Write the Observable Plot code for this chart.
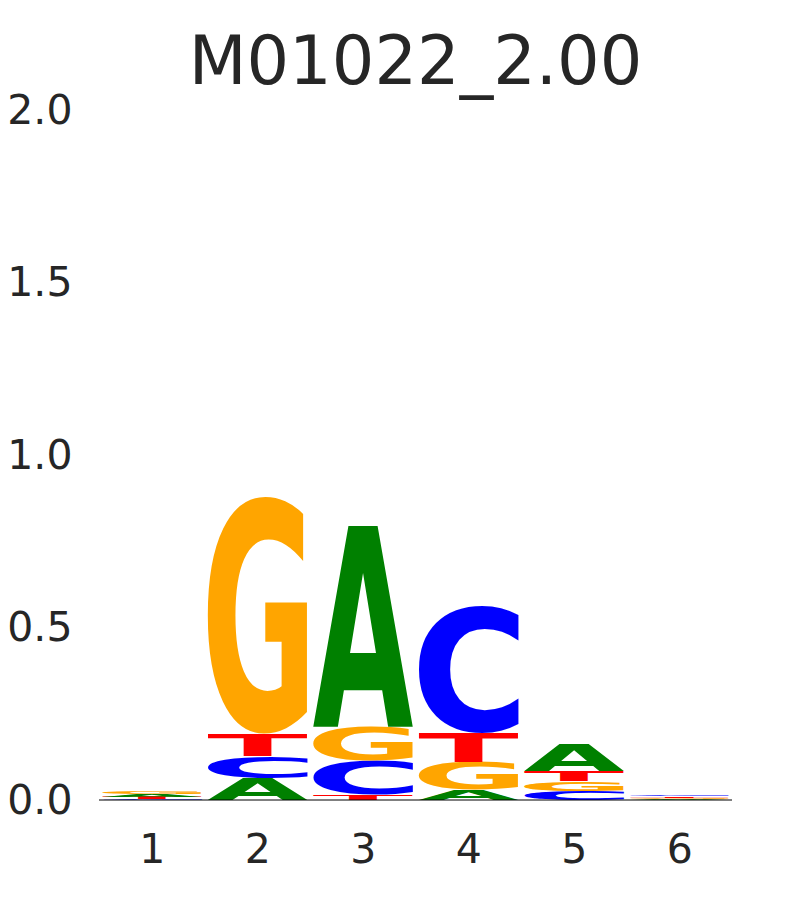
<!DOCTYPE html>
<html>
<head>
<meta charset="utf-8">
<script src="https://cdn.jsdelivr.net/npm/d3@7"></script>
<script src="https://cdn.jsdelivr.net/npm/@observablehq/plot@0.6"></script>
<style>
  body { margin: 0; background: #fff; }
  #chart { position: relative; width: 810px; height: 900px; }
</style>
</head>
<body>
<div id="chart"></div>
<script>
const title = "M01022_2.00";
const positions = [1, 2, 3, 4, 5, 6];
const letters = ["A", "C", "G", "T"];
const letterColors = ["#008000", "#0000ff", "#ffa500", "#ff0000"];
// information content (bits) per letter and position
const A = [0.008, 0.063, 0.583, 0.029, 0.078, 0.002];
const C = [0.004, 0.064, 0.097, 0.368, 0.026, 0.005];
const G = [0.009, 0.689, 0.099, 0.081, 0.028, 0.004];
const T = [0.006, 0.065, 0.016, 0.084, 0.030, 0.0042];
const yTicks = [0, 0.5, 1.0, 1.5, 2.0];

const heights = {A, C, G, T};
const glyphs = [];
positions.forEach((p, i) => {
  const col = letters.map(l => ({letter: l, h: heights[l][i]})).sort((a, b) => a.h - b.h);
  let base = 0;
  for (const c of col) {
    glyphs.push({pos: p, letter: c.letter, y1: base, y2: base + c.h});
    base += c.h;
  }
});

const W = 810, H = 900;
const plot = Plot.plot({
  width: W,
  height: H,
  marginLeft: 99,
  marginRight: 78,
  marginTop: 110,
  marginBottom: 100,
  style: {fontFamily: "'DejaVu Sans', sans-serif", color: "#262626", background: "#fff"},
  x: {domain: [0.5, 6.5], ticks: positions, tickFormat: d3.format("d")},
  y: {domain: [0, 2], ticks: yTicks, tickFormat: d3.format(".1f")},
  marks: [
    Plot.axisX({ticks: positions, tickSize: 0, tickPadding: 33, fontSize: 41, tickFormat: d3.format("d"), label: null}),
    Plot.axisY({ticks: yTicks, tickSize: 0, tickPadding: 27, fontSize: 41, tickFormat: d3.format(".1f"), label: null})
  ]
});
document.getElementById("chart").appendChild(plot);

const sx = plot.scale("x"), sy = plot.scale("y");
const svg = d3.select(plot);
const canvas = document.createElement("canvas");
const ctx = canvas.getContext("2d");
const FS = 200;
ctx.font = `bold ${FS}px "DejaVu Sans"`;
ctx.textAlign = "left";
ctx.textBaseline = "alphabetic";
const metrics = {};
for (const l of letters) {
  const m = ctx.measureText(l);
  metrics[l] = {left: m.actualBoundingBoxLeft, right: m.actualBoundingBoxRight,
                asc: m.actualBoundingBoxAscent, desc: m.actualBoundingBoxDescent};
}
const g = svg.append("g").attr("class", "glyphs").attr("text-anchor", "start");
const halfW = 0.475;
for (const d of glyphs) {
  const x1 = sx.apply(d.pos - halfW), x2 = sx.apply(d.pos + halfW);
  const yTop = sy.apply(d.y2), yBot = sy.apply(d.y1);
  const m = metrics[d.letter];
  const kx = (x2 - x1) / (m.left + m.right);
  const ky = (yBot - yTop) / (m.asc + m.desc);
  g.append("text")
    .attr("transform", `translate(${x1},${yTop}) scale(${kx},${ky}) translate(${m.left},${m.asc})`)
    .attr("text-anchor", "start")
    .attr("font-family", "DejaVu Sans")
    .attr("font-weight", "bold")
    .attr("font-size", FS)
    .attr("fill", letterColors[letters.indexOf(d.letter)])
    .text(d.letter);
}
// baseline
svg.append("line")
  .attr("x1", sx.apply(0.5)).attr("x2", sx.apply(6.5))
  .attr("y1", sy.apply(0)).attr("y2", sy.apply(0))
  .attr("stroke", "#000").attr("stroke-width", 1);
// title
svg.append("text")
  .attr("x", (sx.apply(0.5) + sx.apply(6.5)) / 2)
  .attr("y", 84)
  .attr("text-anchor", "middle")
  .attr("font-family", "DejaVu Sans")
  .attr("font-size", 67)
  .attr("fill", "#262626")
  .text(title);
</script>
</body>
</html>
